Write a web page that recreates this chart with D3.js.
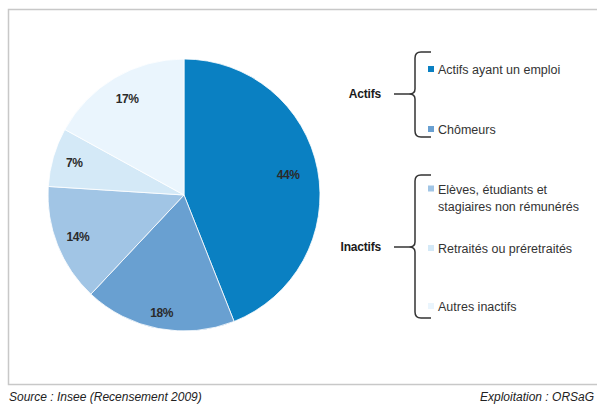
<!DOCTYPE html>
<html><head><meta charset="utf-8">
<script src="https://cdn.jsdelivr.net/npm/d3@7"></script>
<style>
html,body{margin:0;padding:0;background:#fff;}
svg{display:block;font-family:"Liberation Sans",Arial,sans-serif;}
</style></head>
<body>
<svg id="c" width="597" height="404"></svg>
<script>
const categories = ["Actifs ayant un emploi","Chômeurs","Elèves, étudiants et|stagiaires non rémunérés","Retraités ou préretraités","Autres inactifs"];
const values = [44, 18, 14, 7, 17];
const colors = ["#0a80c2","#69a0d1","#a1c5e5","#d4e9f7","#eaf5fd"];
const groups = ["Actifs","Inactifs"];
const groupMembers = [[0,1],[2,3,4]];
const sourceText = "Source : Insee (Recensement 2009)";
const exploitText = "Exploitation : ORSaG";

const svg = d3.select("#c");
// frame
svg.append("rect").attr("x",8.5).attr("y",9.5).attr("width",600).attr("height",375)
  .attr("fill","#fff").attr("stroke","#c8c8c8").attr("stroke-width",1.5);

const cx = 184, cy = 195, r = 136;
const g = svg.append("g").attr("transform",`translate(${cx},${cy})`);
const pie = d3.pie().sort(null).value(d=>d)(values);
const arc = d3.arc().innerRadius(0).outerRadius(r);
g.selectAll("path").data(pie).join("path")
  .attr("d",arc).attr("fill",(d,i)=>colors[i])
  .attr("stroke","#fff").attr("stroke-width",0.8);
const labelR = [0.78,0.88,0.84,0.84,0.82];
g.selectAll("text").data(pie).join("text")
  .attr("transform",(d,i)=>{
    const a = d3.arc().innerRadius(r*labelR[i]).outerRadius(r*labelR[i]);
    return `translate(${a.centroid(d)})`;
  })
  .attr("text-anchor","middle").attr("dominant-baseline","central")
  .attr("font-size",12).attr("font-weight","bold").attr("fill","#2a2a2a")
  .attr("letter-spacing",-0.4)
  .text(d=>d.value+"%");

// legend
const itemY = [70,130,198,249,307];
const grp = [{top:52,bot:137,mid:94,labelX:381},{top:175,bot:318,mid:247,labelX:381}];
const bx = 415;
groups.forEach((name,gi)=>{
  const b = grp[gi];
  svg.append("text").attr("x",b.labelX).attr("y",b.mid).attr("text-anchor","end")
    .attr("dominant-baseline","central").attr("font-size",12).attr("font-weight","bold")
    .attr("fill","#1a1a1a").attr("letter-spacing",-0.2).text(name);
  svg.append("line").attr("x1",394).attr("x2",409).attr("y1",b.mid).attr("y2",b.mid)
    .attr("stroke","#333").attr("stroke-width",1.5);
  const p = `M431,${b.top} L421,${b.top} Q${bx},${b.top} ${bx},${b.top+6} L${bx},${b.mid-5} Q${bx},${b.mid} ${bx-6},${b.mid} Q${bx},${b.mid} ${bx},${b.mid+5} L${bx},${b.bot-6} Q${bx},${b.bot} 421,${b.bot} L431,${b.bot}`;
  svg.append("path").attr("d",p).attr("fill","none").attr("stroke","#333").attr("stroke-width",1.5);
  groupMembers[gi].forEach(i=>{
    const lines = categories[i].split("|");
    const y0 = itemY[i] - (lines.length-1)*8.5;
    svg.append("rect").attr("x",428).attr("y",y0-4).attr("width",6).attr("height",6).attr("fill",colors[i]);
    const t = svg.append("text").attr("x",438).attr("font-size",12.5).attr("fill","#333");
    lines.forEach((l,k)=>{
      t.append("tspan").attr("x",438).attr("y",y0+k*17).attr("dominant-baseline","central").text(l);
    });
  });
});

svg.append("text").attr("x",9).attr("y",397).attr("dominant-baseline","central")
  .attr("font-size",12).attr("font-style","italic").attr("fill","#222").text(sourceText);
svg.append("text").attr("x",480).attr("y",397).attr("dominant-baseline","central")
  .attr("font-size",12).attr("font-style","italic").attr("fill","#222").text(exploitText);
</script>
</body></html>
